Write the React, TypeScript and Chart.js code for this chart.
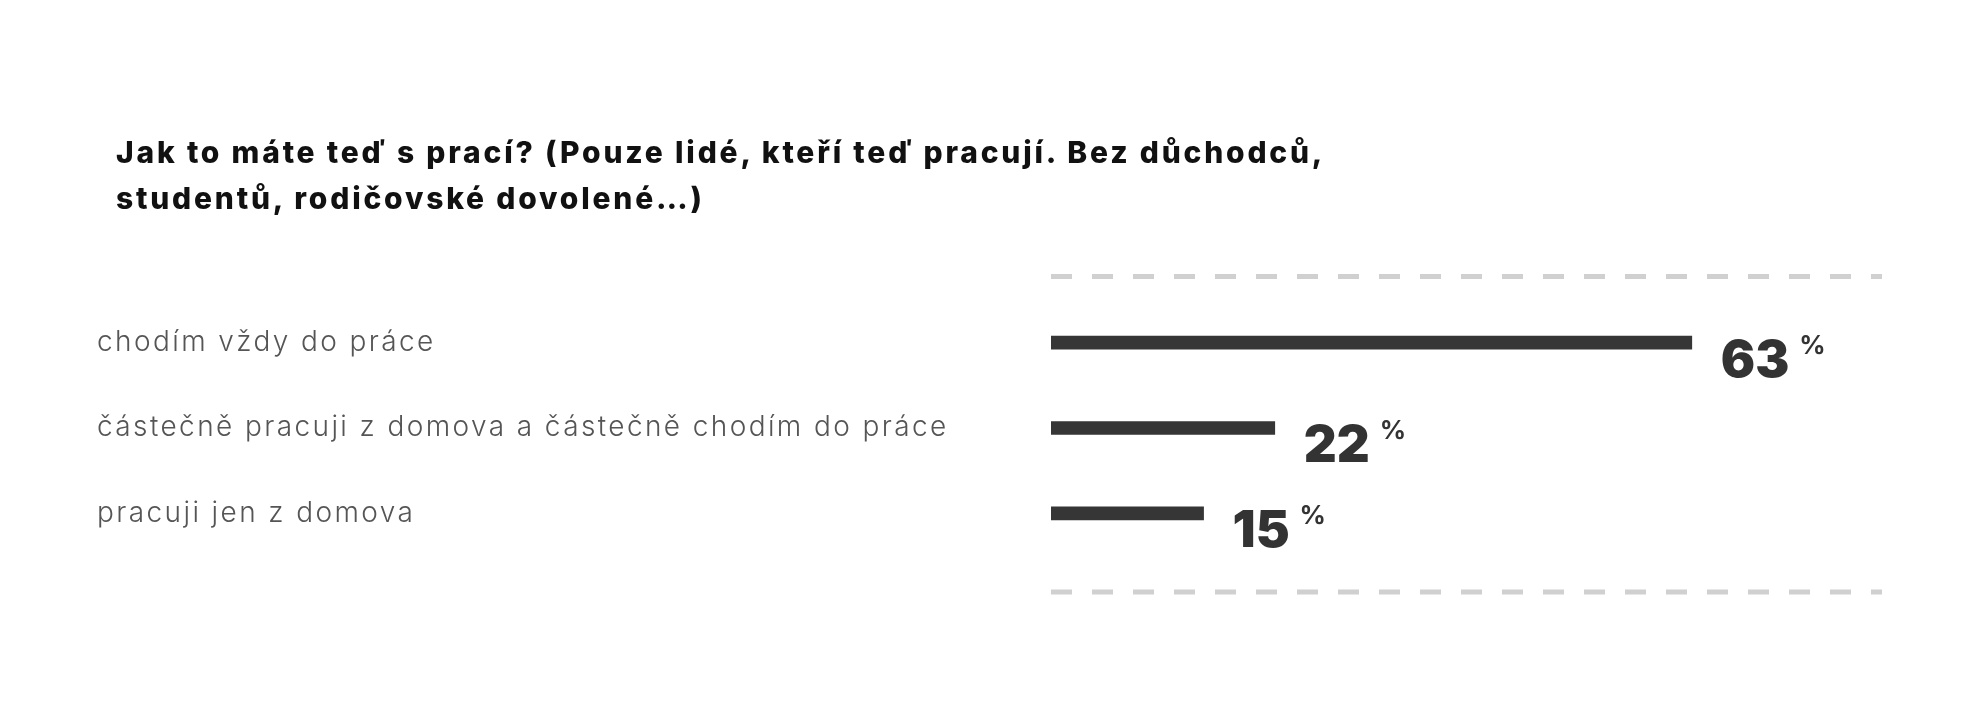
import { useRef, useEffect } from 'react'
import Chart from 'chart.js/auto'

const TITLE_LINES = [
  'Jak to máte teď s prací? (Pouze lidé, kteří teď pracují. Bez důchodců,',
  'studentů, rodičovské dovolené…)',
]

const CATEGORIES = [
  'chodím vždy do práce',
  'částečně pracuji z domova a částečně chodím do práce',
  'pracuji jen z domova',
]

const VALUES = [63, 22, 15]

const X_MAX = 81.7

const BAR_COLOR = '#363636'
const FONT = 'Inter, "Open Sans", sans-serif'

// wider tracking for the category labels (the original font is much wider)
const labelTracking = {
  id: 'labelTracking',
  beforeDraw(chart: Chart) {
    ;(chart.ctx as any).letterSpacing = '2.4px'
  },
  beforeDatasetsDraw(chart: Chart) {
    ;(chart.ctx as any).letterSpacing = '0px'
  },
}

// dashed rules above and below the bars
const dashedRules = {
  id: 'dashedRules',
  beforeDatasetsDraw(chart: Chart) {
    const { ctx, chartArea } = chart
    ctx.save()
    ctx.strokeStyle = '#d0d0d0'
    ctx.lineWidth = 5
    ctx.setLineDash([21, 20])
    for (const y of [chartArea.top - 23.5, chartArea.bottom + 36]) {
      ctx.beginPath()
      ctx.moveTo(chartArea.left, y)
      ctx.lineTo(chartArea.right, y)
      ctx.stroke()
    }
    ctx.restore()
  },
}

// big number + small % after each bar
const valueLabels = {
  id: 'valueLabels',
  afterDatasetsDraw(chart: Chart) {
    const ctx = chart.ctx
    const meta = chart.getDatasetMeta(0)
    meta.data.forEach((bar: any, i: number) => {
      const txt = String(VALUES[i])
      ctx.save()
      ctx.fillStyle = '#333333'
      ctx.textAlign = 'left'
      ctx.textBaseline = 'alphabetic'
      ctx.font = `900 51px ${FONT}`
      const x = bar.x + 29
      ctx.fillText(txt, x, bar.y + 34)
      const w = ctx.measureText(txt).width
      ctx.font = `700 26px ${FONT}`
      ctx.fillText('%', x + w + 10, bar.y + 11)
      ctx.restore()
    })
  },
}

export default function App() {
  const canvasRef = useRef<HTMLCanvasElement>(null)
  const chartRef = useRef<Chart | null>(null)

  useEffect(() => {
    if (!canvasRef.current) return
    chartRef.current?.destroy()

    chartRef.current = new Chart(canvasRef.current, {
      type: 'bar',
      data: {
        labels: CATEGORIES,
        datasets: [
          {
            data: VALUES,
            backgroundColor: BAR_COLOR,
            borderWidth: 0,
            barThickness: 13,
          },
        ],
      },
      plugins: [labelTracking, dashedRules, valueLabels],
      options: {
        indexAxis: 'y',
        responsive: true,
        maintainAspectRatio: false,
        animation: false,
        layout: { padding: { left: 97, right: 98, top: 300, bottom: 165 } },
        plugins: {
          legend: { display: false },
          tooltip: { enabled: false },
          title: { display: false },
        },
        scales: {
          x: { display: false, min: 0, max: X_MAX },
          y: {
            grid: { display: false },
            border: { display: false },
            ticks: {
              crossAlign: 'far',
              color: '#555555',
              font: { family: FONT, size: 28, weight: 300 },
            },
            afterFit: (scale: any) => { scale.width = 954 },
          },
        },
      },
    })

    return () => { chartRef.current?.destroy(); chartRef.current = null }
  }, [])

  return (
    <div style={{ position: 'fixed', left: 0, top: 0, width: 1980, height: 721, background: '#fff' }}>
      <div
        style={{
          position: 'absolute',
          left: 116,
          top: 129,
          fontFamily: FONT,
          fontWeight: 800,
          fontSize: 30,
          lineHeight: '46px',
          letterSpacing: '2.8px',
          color: '#111',
          whiteSpace: 'nowrap',
        }}
      >
        {TITLE_LINES.map((l) => (
          <div key={l}>{l}</div>
        ))}
      </div>
      <canvas ref={canvasRef} />
    </div>
  )
}
